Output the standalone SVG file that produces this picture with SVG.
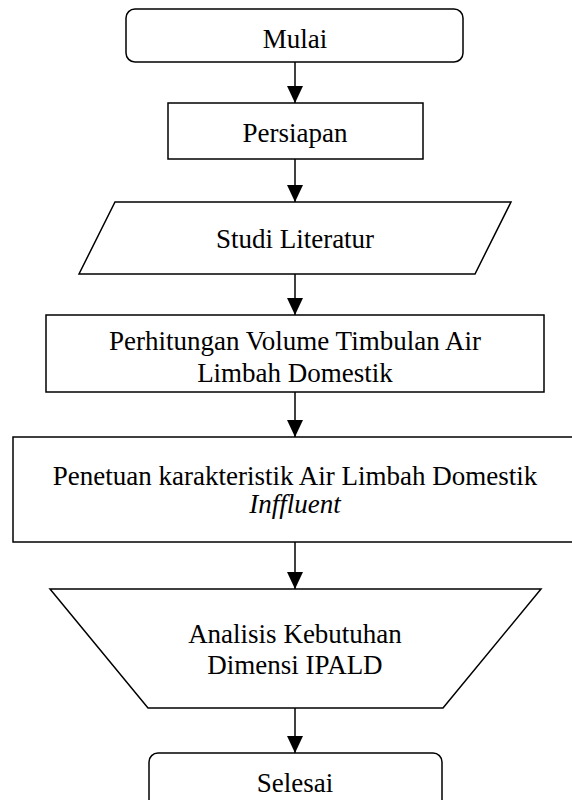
<svg xmlns="http://www.w3.org/2000/svg" width="572" height="800" viewBox="0 0 572 800">
<style>
.s{fill:#fff;stroke:#000;stroke-width:1.5}
.t{font-family:"Liberation Serif","Times New Roman",serif;font-size:27px;fill:#000;text-anchor:middle}
.i{font-style:italic}
.c{stroke:#000;stroke-width:1.5;fill:none}
</style>
<defs>
<marker id="ah" markerUnits="userSpaceOnUse" markerWidth="18" markerHeight="16" refX="17" refY="8" orient="auto">
<path d="M0,0 L17,8 L0,16 Z" fill="#000"/>
</marker>
</defs>
<rect width="572" height="800" fill="#fff"/>
<g id="connectors">
<line class="c" x1="295" y1="62" x2="295" y2="103" marker-end="url(#ah)"/>
<line class="c" x1="295" y1="159" x2="295" y2="202" marker-end="url(#ah)"/>
<line class="c" x1="295" y1="274" x2="295" y2="315" marker-end="url(#ah)"/>
<line class="c" x1="295" y1="392" x2="295" y2="437" marker-end="url(#ah)"/>
<line class="c" x1="295" y1="542" x2="295" y2="589" marker-end="url(#ah)"/>
<line class="c" x1="295" y1="708" x2="295" y2="753" marker-end="url(#ah)"/>
</g>
<g id="mulai">
<rect class="s" x="126" y="9" width="337" height="53" rx="9"/>
<text class="t" x="295" y="48">Mulai</text>
</g>
<g id="persiapan">
<rect class="s" x="168" y="103" width="255" height="56"/>
<text class="t" x="295" y="142">Persiapan</text>
</g>
<g id="studi">
<polygon class="s" points="115,202 511,202 475,274 79,274"/>
<text class="t" x="295" y="248">Studi Literatur</text>
</g>
<g id="perhitungan">
<rect class="s" x="46" y="315" width="498" height="77"/>
<text class="t" x="295" y="350">Perhitungan Volume Timbulan Air</text>
<text class="t" x="295" y="382">Limbah Domestik</text>
</g>
<g id="penetuan">
<rect class="s" x="13" y="437" width="564" height="105"/>
<text class="t" x="295" y="485">Penetuan karakteristik Air Limbah Domestik</text>
<text class="t i" x="295" y="513">Inffluent</text>
</g>
<g id="analisis">
<polygon class="s" points="50,589 541,589 443,708 148,708"/>
<text class="t" x="295" y="643">Analisis Kebutuhan</text>
<text class="t" x="295" y="674">Dimensi IPALD</text>
</g>
<g id="selesai">
<rect class="s" x="149" y="753" width="293" height="60" rx="9"/>
<text class="t" x="295" y="792">Selesai</text>
</g>
</svg>
